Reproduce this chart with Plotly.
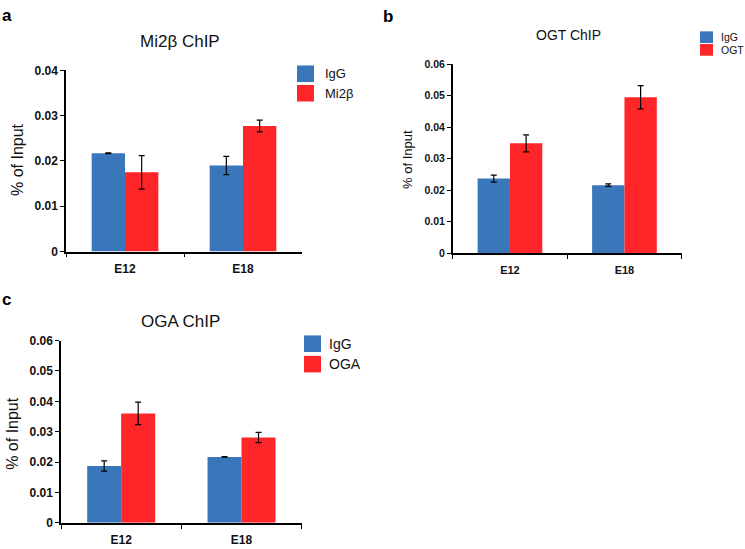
import plotly.graph_objects as go

W, H = 745, 549

categories = ["E12", "E18"]

# Panel a: Mi2beta ChIP
a_title = "Mi2β ChIP"
a_names = ["IgG", "Mi2β"]
a_igg = [0.0217, 0.0190]
a_igg_err = [0.0001, 0.0020]
a_ab = [0.0175, 0.0277]
a_ab_err = [0.0037, 0.0013]

# Panel b: OGT ChIP
b_title = "OGT ChIP"
b_names = ["IgG", "OGT"]
b_igg = [0.0237, 0.0216]
b_igg_err = [0.0011, 0.0004]
b_ab = [0.0349, 0.0495]
b_ab_err = [0.0027, 0.0037]

# Panel c: OGA ChIP
c_title = "OGA ChIP"
c_names = ["IgG", "OGA"]
c_igg = [0.0187, 0.0217]
c_igg_err = [0.0017, 0.0001]
c_ab = [0.0360, 0.0281]
c_ab_err = [0.0037, 0.0017]

y_title = "% of Input"

BLUE = "#3977BA"
RED = "#FF2629"
FONT = "Arial, Liberation Sans, Helvetica, sans-serif"


def px(x):
    return x / W


def py(y):
    return 1 - y / H


panels = [
    dict(letter="a", title=a_title, names=a_names, igg=a_igg, igg_err=a_igg_err,
         ab=a_ab, ab_err=a_ab_err, ymax=0.04,
         xd=(66, 302), yd=(65, 251), title_pos=(180, 35), title_size=17,
         ylab_pos=(18, 157), ylab_size=16, letter_pos=(7, 9),
         tick_size=12, xtick_size=12, standoff=5,
         leg=dict(x0=297, x1=314, blue=(60, 77), red=(80, 97), tx=323, size=13)),
    dict(letter="b", title=b_title, names=b_names, igg=b_igg, igg_err=b_igg_err,
         ab=b_ab, ab_err=b_ab_err, ymax=0.06,
         xd=(452.7, 681.7), yd=(58.7, 252.7), title_pos=(568, 29), title_size=14,
         ylab_pos=(408, 157), ylab_size=13, letter_pos=(388, 10),
         tick_size=10.5, xtick_size=11, standoff=6,
         leg=dict(x0=700, x1=713, blue=(25, 37), red=(38, 50), tx=719, size=10.5)),
    dict(letter="c", title=c_title, names=c_names, igg=c_igg, igg_err=c_igg_err,
         ab=c_ab, ab_err=c_ab_err, ymax=0.06,
         xd=(61, 301.7), yd=(342.3, 529.3), title_pos=(180, 323), title_size=17,
         ylab_pos=(13, 438), ylab_size=16, letter_pos=(6, 300),
         tick_size=12, xtick_size=12, standoff=5,
         leg=dict(x0=304, x1=321, blue=(337, 354), red=(358, 375), tx=327, size=14)),
]

fig = go.Figure()
annotations = []
shapes = []

for i, p in enumerate(panels):
    sfx = "" if i == 0 else str(i + 1)
    xa, ya = "x" + sfx, "y" + sfx
    for vals, errs, name, color in [(p["igg"], p["igg_err"], p["names"][0], BLUE),
                                    (p["ab"], p["ab_err"], p["names"][1], RED)]:
        fig.add_trace(go.Bar(
            x=categories, y=vals, name=name, xaxis=xa, yaxis=ya,
            marker=dict(color=color, line=dict(width=0)),
            error_y=dict(type="data", array=errs, visible=True,
                         color="black", thickness=1.2, width=3),
            showlegend=False,
        ))
    xd = [px(p["xd"][0]), px(p["xd"][1])]
    yd = [py(p["yd"][1]), py(p["yd"][0])]
    fig.update_layout(**{
        "xaxis" + sfx: dict(
            domain=xd, anchor=ya, type="category", range=[-0.5, 1.5],
            showline=True, linecolor="black", linewidth=1.5,
            ticks="outside", tickson="boundaries", ticklen=4, tickcolor="black",
            tickwidth=1.2, showgrid=False, zeroline=False,
            tickfont=dict(family=FONT, size=p["xtick_size"], color="#111", weight="bold"),
            ticklabelstandoff=p["standoff"],
        ),
        "yaxis" + sfx: dict(
            domain=yd, anchor=xa, range=[0, p["ymax"]], dtick=0.01,
            showline=True, linecolor="black", linewidth=1.5,
            ticks="outside", ticklen=4, tickcolor="black", tickwidth=1.2,
            showgrid=False, zeroline=False,
            tickfont=dict(family=FONT, size=p["tick_size"], color="#111", weight="bold"),
        ),
    })
    # panel title
    annotations.append(dict(
        text=p["title"], x=px(p["title_pos"][0]), y=py(p["title_pos"][1]),
        xref="paper", yref="paper", showarrow=False, xanchor="center", yanchor="middle",
        font=dict(family=FONT, size=p["title_size"], color="#111")))
    # y-axis title
    annotations.append(dict(
        text=y_title, x=px(p["ylab_pos"][0]), y=py(p["ylab_pos"][1]),
        xref="paper", yref="paper", showarrow=False, xanchor="center", yanchor="middle",
        textangle=-90, font=dict(family=FONT, size=p["ylab_size"], color="#111")))
    # panel letter
    annotations.append(dict(
        text="<b>%s</b>" % p["letter"], x=px(p["letter_pos"][0]), y=py(p["letter_pos"][1]),
        xref="paper", yref="paper", showarrow=False, xanchor="center", yanchor="middle",
        font=dict(family=FONT, size=17, color="black")))
    # legend swatches & labels
    lg = p["leg"]
    for (y0, y1), color, name in [(lg["blue"], BLUE, p["names"][0]),
                                  (lg["red"], RED, p["names"][1])]:
        shapes.append(dict(type="rect", xref="paper", yref="paper",
                           x0=px(lg["x0"]), x1=px(lg["x1"]), y0=py(y1), y1=py(y0),
                           fillcolor=color, line=dict(width=0)))
        annotations.append(dict(
            text=name, x=px(lg["tx"]), y=py((y0 + y1) / 2),
            xref="paper", yref="paper", showarrow=False, xanchor="left", yanchor="middle",
            font=dict(family=FONT, size=lg["size"], color="#111")))

fig.update_layout(
    width=W, height=H,
    margin=dict(l=0, r=0, t=0, b=0),
    paper_bgcolor="white", plot_bgcolor="white",
    barmode="group", bargap=0.435, bargroupgap=0,
    annotations=annotations, shapes=shapes,
    font=dict(family=FONT),
)

fig.write_html(
    "out.html",
    config={"displayModeBar": False},
    post_script="document.body.style.margin='0';document.body.style.overflow='hidden';",
)
